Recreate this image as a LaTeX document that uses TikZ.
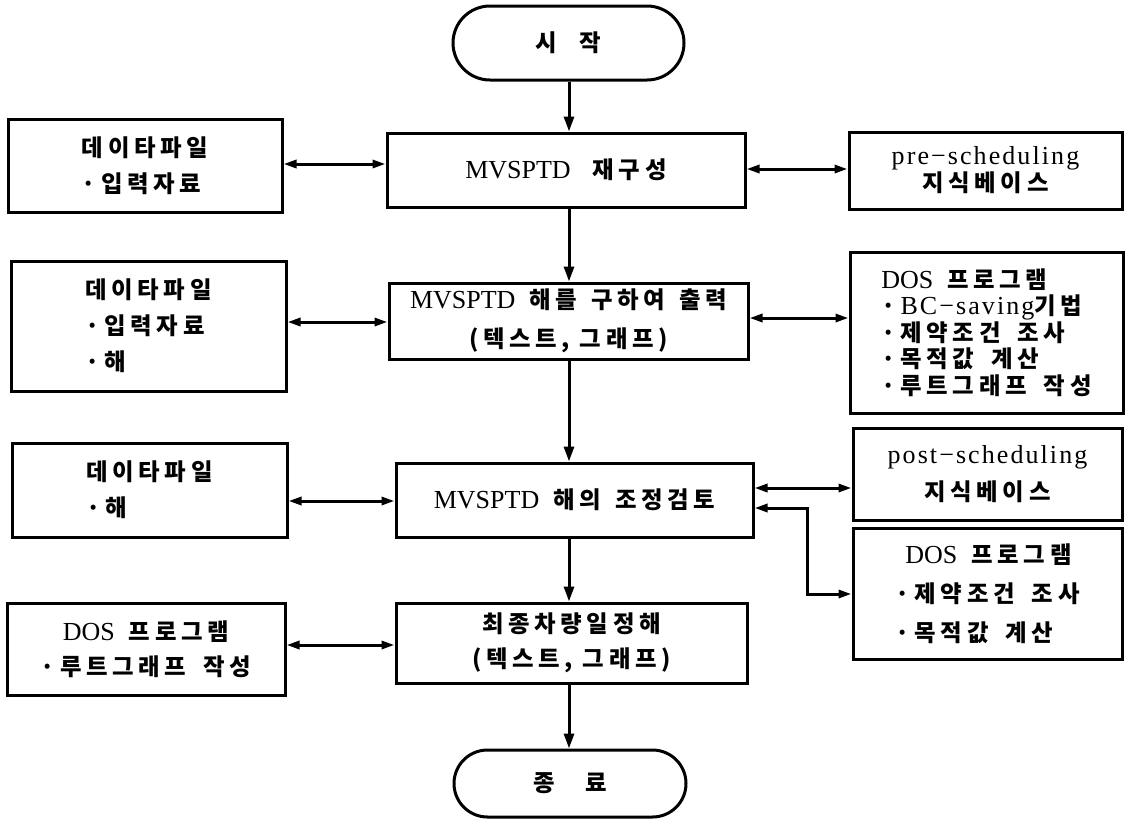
\documentclass[tikz,border=0pt]{standalone}
\usepackage{fontspec}
\setmainfont{Liberation Serif}
\newfontfamily\kr[Scale=0.9,LetterSpace=20]{Noto Sans CJK KR}
\newfontfamily\lw[LetterSpace=8]{Liberation Serif}
\newcommand\K[1]{{\kr\bfseries #1}}
\newcommand\W[1]{{\lw #1}}
\newcommand\ws{\hspace{14pt}}
\newcommand\kw{\hspace{17pt}}
\newcommand\bul{\K{·}\hspace{5pt}}
\usetikzlibrary{arrows.meta,shapes.misc}
\begin{document}
\begin{tikzpicture}[x=1pt,y=-1pt,
  box/.style={draw, line width=3pt, inner sep=0pt, align=center},
  term/.style={draw, line width=3pt, rounded rectangle, inner sep=0pt},
  arr/.style={line width=3pt, -{Triangle[length=15pt,width=10pt]}},
  dbl/.style={line width=3pt, {Triangle[length=13pt,width=8pt]}-{Triangle[length=13pt,width=8pt]}},
  every node/.style={font=\fontsize{26}{36}\selectfont}]
\path[use as bounding box, fill=white] (0,0) rectangle (1128,820);

\node[term, minimum width=231pt, minimum height=74pt] (start) at (568.5,43) {\K{시}\hspace{22pt}\K{작}};
\node[box, minimum width=358pt, minimum height=74pt] (b1) at (566,170) {MVSPTD\hspace{22pt}\K{재구성}};
\node[box, align=left, minimum width=274pt, minimum height=93pt] (l1) at (145,165.5) {\K{데이타파일}\\\bul\K{입력자료}};
\node[box, minimum width=273pt, minimum height=77pt, font=\fontsize{26}{27}\selectfont] (r1) at (985.5,170.5) {\W{pre−scheduling}\\\K{지식베이스}};

\node[box, minimum width=359pt, minimum height=76pt, font=\fontsize{26}{39}\selectfont] (b2) at (568.5,321) {MVSPTD\ws\K{해를}\ws\K{구하여}\ws\K{출력}\\\K{(텍스트,}\hspace{10pt}\K{그래프)}};
\node[box, align=left, minimum width=275pt, minimum height=130pt] (l2) at (148.5,326) {\K{데이타파일}\\\bul\K{입력자료}\\\bul\K{해}};
\node[box, align=left, minimum width=273pt, minimum height=161pt, font=\fontsize{26}{26.5}\selectfont] (r2) at (986.5,332.5) {DOS\ws\K{프로그램}\\\bul\W{BC−saving}\K{기법}\\\bul\K{제약조건}\kw\K{조사}\\\bul\K{목적값}\kw\K{계산}\\\bul\K{루트그래프}\kw\K{작성}};

\node[box, minimum width=357pt, minimum height=74pt] (b3) at (574.5,500) {MVSPTD\ws\K{해의}\ws\K{조정검토}};
\node[box, align=left, minimum width=275pt, minimum height=94pt] (l3) at (149.5,490) {\K{데이타파일}\\\bul\K{해}};
\node[box, minimum width=269pt, minimum height=92pt, font=\fontsize{26}{37}\selectfont] (r3) at (987.5,474) {\W{post−scheduling}\\\K{지식베이스}};
\node[box, align=left, minimum width=269pt, minimum height=131pt, font=\fontsize{26}{39}\selectfont] (r4) at (987.5,593.5) {\hspace{10pt}DOS\ws\K{프로그램}\\\bul\K{제약조건}\kw\K{조사}\\\bul\K{목적값}\kw\K{계산}};

\node[box, minimum width=351pt, minimum height=80pt, font=\fontsize{26}{35}\selectfont] (b4) at (571.5,643) {\K{최종차량일정해}\\\K{(텍스트,}\hspace{10pt}\K{그래프)}};
\node[box, minimum width=278pt, minimum height=92pt, font=\fontsize{26}{35}\selectfont] (l4) at (146,649) {DOS\ws\K{프로그램}\\\bul\K{루트그래프}\kw\K{작성}};

\node[term, minimum width=232pt, minimum height=67pt] (end) at (570,783.5) {\K{종}\hspace{30pt}\K{료}};

% vertical flow
\coordinate (ax) at (569,0);
\draw[arr] (start.south -| ax) -- (b1.north -| ax);
\draw[arr] (b1.south -| ax) -- (b2.north -| ax);
\draw[arr] (b2.south -| ax) -- (b3.north -| ax);
\draw[arr] (b3.south -| ax) -- (b4.north -| ax);
\draw[arr] (b4.south -| ax) -- (end.north -| ax);

% side connectors
\coordinate (y1l) at (0,164);
\coordinate (y1r) at (0,169);
\coordinate (y2l) at (0,322);
\coordinate (y2r) at (0,318);
\coordinate (y3l) at (0,501);
\coordinate (y3r) at (0,488);
\coordinate (y4l) at (0,645);
\draw[dbl] (l1.east |- y1l) -- (b1.west |- y1l);
\draw[dbl] (b1.east |- y1r) -- (r1.west |- y1r);
\draw[dbl] (l2.east |- y2l) -- (b2.west |- y2l);
\draw[dbl] (b2.east |- y2r) -- (r2.west |- y2r);
\draw[dbl] (l3.east |- y3l) -- (b3.west |- y3l);
\draw[dbl] (b3.east |- y3r) -- (r3.west |- y3r);
\draw[dbl] (l4.east |- y4l) -- (b4.west |- y4l);
\coordinate (k1) at (807,508);
\coordinate (k2) at (807,594);
\draw[dbl] (b3.east |- k1) -- (k1) -- (k2) -- (r4.west |- k2);
\end{tikzpicture}
\end{document}
